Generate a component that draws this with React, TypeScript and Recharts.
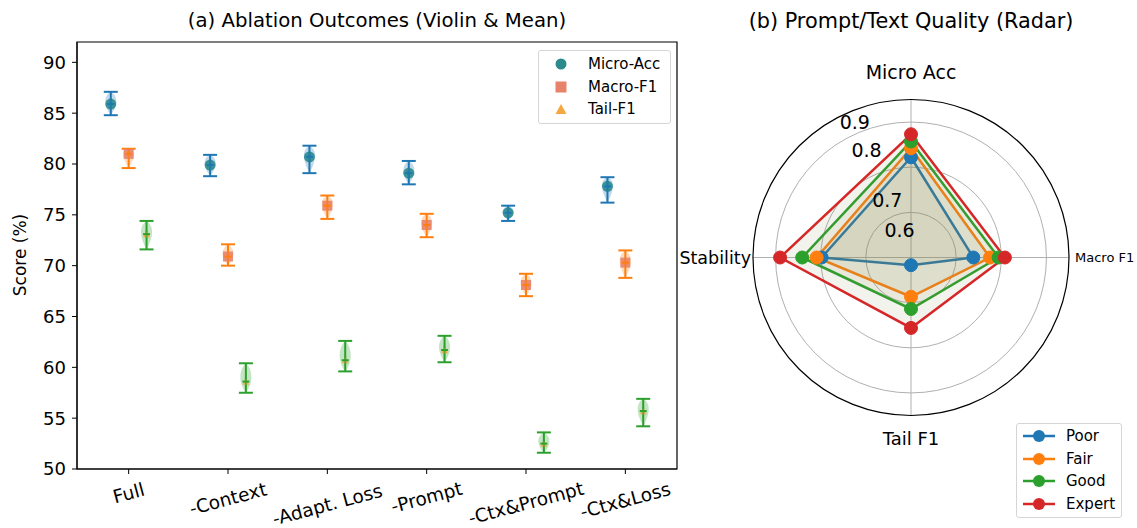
import React from "react";
import {
  ScatterChart,
  Scatter,
  XAxis,
  YAxis,
  ErrorBar,
  ReferenceArea,
  RadarChart,
  Radar,
  PolarGrid,
  PolarAngleAxis,
  PolarRadiusAxis,
} from "recharts";

const FONT = "'DejaVu Sans', sans-serif";

// ---- (a) ablation data: mean and min/max over runs, in % ----
const variants = ["Full", "-Context", "-Adapt. Loss", "-Prompt", "-Ctx&Prompt", "-Ctx&Loss"];

const microMean = [85.9, 79.9, 80.7, 79.1, 75.2, 77.8];
const microMin = [84.8, 78.8, 79.1, 78.0, 74.4, 76.2];
const microMax = [87.1, 80.9, 81.8, 80.3, 75.9, 78.7];

const macroMean = [81.0, 70.9, 75.9, 74.0, 68.1, 70.3];
const macroMin = [79.6, 70.0, 74.6, 72.8, 67.0, 68.8];
const macroMax = [81.5, 72.1, 76.9, 75.1, 69.2, 71.5];

const tailMean = [73.1, 58.6, 60.7, 61.7, 52.5, 55.7];
const tailMin = [71.6, 57.5, 59.6, 60.5, 51.6, 54.2];
const tailMax = [74.4, 60.4, 62.6, 63.1, 53.6, 56.9];

const scoreTicks = [50, 55, 60, 65, 70, 75, 80, 85, 90];

// ---- (b) radar data ----
const radarAxes = ["Micro Acc", "Macro F1", "Tail F1", "Stability"];
const poor = [0.722, 0.638, 0.517, 0.698];
const fair = [0.742, 0.675, 0.587, 0.709];
const good = [0.757, 0.694, 0.614, 0.741];
const expert = [0.773, 0.708, 0.656, 0.79];
const ringTicks = [0.6, 0.7, 0.8];
const ringLabels = ["0.6", "0.7", "0.8", "0.9"];

// layout of the left plot
const Y_MIN = 50;
const Y_MAX = 92;
const X_MIN = -0.52;
const X_MAX = 5.52;
const PLOT_H = 427;
const PX_PER_UNIT = PLOT_H / (Y_MAX - Y_MIN);

type Pt = { x: number; mean: number; min: number; max: number; err: [number, number] };

function buildSeries(mean: number[], min: number[], max: number[], shift: number): Pt[] {
  return mean.map((m, i) => ({
    x: i + shift,
    mean: m,
    min: min[i],
    max: max[i],
    err: [m - min[i], max[i] - m],
  }));
}

const metrics = [
  { name: "Micro-Acc", data: buildSeries(microMean, microMin, microMax, -0.18), body: "#1f77b4", marker: "#2a8a8c", symbol: "circle" },
  { name: "Macro-F1", data: buildSeries(macroMean, macroMin, macroMax, 0), body: "#ff7f0e", marker: "#e8836b", symbol: "square" },
  { name: "Tail-F1", data: buildSeries(tailMean, tailMin, tailMax, 0.18), body: "#2ca02c", marker: "#f5a742", symbol: "triangle" },
];

function Marker({ symbol, x, y, color, size }: { symbol: string; x: number; y: number; color: string; size: number }) {
  if (symbol === "circle") return <circle cx={x} cy={y} r={size / 2} fill={color} />;
  if (symbol === "square") return <rect x={x - size / 2} y={y - size / 2} width={size} height={size} fill={color} />;
  const h = size * 0.9;
  return <polygon points={`${x},${y - h / 2} ${x + size / 2},${y + h / 2} ${x - size / 2},${y + h / 2}`} fill={color} />;
}

// violin body + mean marker drawn around each scatter point
function violinShape(body: string, marker: string, symbol: string) {
  return (props: any) => {
    const { cx, cy, payload } = props;
    if (cx == null || cy == null) return <g />;
    const up = (payload.max - payload.mean) * PX_PER_UNIT;
    const down = (payload.mean - payload.min) * PX_PER_UNIT;
    const top = cy - up;
    const bot = cy + down;
    const w = 7;
    const d = `M${cx},${top} C${cx + w * 0.9},${top + up * 0.3} ${cx + w * 1.2},${cy} ${cx},${bot} C${cx - w * 1.2},${cy} ${cx - w * 0.9},${top + up * 0.3} ${cx},${top} Z`;
    const size = symbol === "circle" ? 11 : symbol === "square" ? 10 : 7;
    return (
      <g>
        <path d={d} fill={body} fillOpacity={0.28} stroke="none" />
        <g opacity={0.9}>
          <Marker symbol={symbol} x={cx} y={cy} color={marker} size={size} />
        </g>
        <line x1={cx} x2={cx} y1={cy - size / 2} y2={cy + size / 2} stroke={body} strokeWidth={2} strokeOpacity={0.6} />
        <line x1={cx - 3.5} x2={cx + 3.5} y1={cy} y2={cy} stroke={body} strokeWidth={2} />
      </g>
    );
  };
}

function VariantTick(props: any) {
  const { x, y, payload } = props;
  const label = variants[payload.value];
  if (label == null) return <g />;
  const fs = 18.5;
  const w = label.length * 0.6 * fs;
  const ty = y + 1.5 + (0.259 * w + 0.966 * fs * 1.1) / 2;
  return (
    <text
      x={x}
      y={ty}
      textAnchor="middle"
      dominantBaseline="central"
      transform={`rotate(-15 ${x} ${ty})`}
      fontSize={fs}
      fontFamily={FONT}
      fill="#000"
    >
      {label}
    </text>
  );
}

function AblationLegend() {
  return (
    <div
      style={{
        position: "absolute",
        left: 538,
        top: 50,
        width: 131,
        height: 72,
        border: "1px solid #d5d5d5",
        borderRadius: 3,
        background: "rgba(255,255,255,0.8)",
        fontSize: 15,
      }}
    >
      {metrics.map((m, i) => (
        <div key={m.name} style={{ position: "absolute", top: 3 + i * 22.5, left: 0, height: 20, width: 130 }}>
          <svg width={30} height={20} style={{ position: "absolute", left: 7, top: 0 }}>
            <Marker symbol={m.symbol} x={15} y={10} color={m.marker} size={11} />
          </svg>
          <span style={{ position: "absolute", left: 49, top: 0, lineHeight: "20px", whiteSpace: "nowrap" }}>{m.name}</span>
        </div>
      ))}
    </div>
  );
}

function AblationPanel() {
  return (
    <div style={{ position: "absolute", left: 0, top: 0, width: 700, height: 528 }}>
      <div style={{ position: "absolute", left: 77, width: 600, top: 9, textAlign: "center", fontSize: 19.7, lineHeight: "24px" }}>
        (a) Ablation Outcomes (Violin &amp; Mean)
      </div>
      <div
        style={{
          position: "absolute",
          left: 20,
          top: 255,
          transform: "translate(-50%, -50%) rotate(-90deg)",
          fontSize: 17,
          whiteSpace: "nowrap",
        }}
      >
        Score (%)
      </div>
      <ScatterChart width={700} height={528} margin={{ top: 42, right: 23, bottom: 0, left: 12 }}>
        <XAxis
          type="number"
          dataKey="x"
          domain={[X_MIN, X_MAX]}
          ticks={[0, 1, 2, 3, 4, 5]}
          allowDataOverflow
          height={59}
          tickSize={5}
          stroke="#000"
          tick={<VariantTick />}
        />
        <YAxis
          type="number"
          dataKey="mean"
          domain={[Y_MIN, Y_MAX]}
          ticks={scoreTicks}
          allowDataOverflow
          width={65}
          tickSize={5}
          tickMargin={6}
          stroke="#000"
          tick={{ fontSize: 18, fill: "#000", fontFamily: FONT }}
        />
        <ReferenceArea x1={X_MIN} x2={X_MAX} y1={Y_MIN} y2={Y_MAX} fill="none" stroke="#000" strokeWidth={1.2} ifOverflow="visible" />
        {metrics.map((m) => (
          <Scatter key={m.name} name={m.name} data={m.data} shape={violinShape(m.body, m.marker, m.symbol)} isAnimationActive={false}>
            <ErrorBar dataKey="err" direction="y" width={7} stroke={m.body} strokeWidth={2} />
          </Scatter>
        ))}
      </ScatterChart>
      <AblationLegend />
    </div>
  );
}

// ---- radar panel ----
const PANEL_LEFT = 640;
const CX = 271;
const CY = 257.5;
const OUTER = 158;
const R_MIN = 0.5;
const R_MAX = 0.85;

const levels = [
  { key: "Poor", values: poor, color: "#1f77b4" },
  { key: "Fair", values: fair, color: "#ff7f0e" },
  { key: "Good", values: good, color: "#2ca02c" },
  { key: "Expert", values: expert, color: "#d62728" },
];

const angleLabelStyle: Record<string, { r: number; fs: number }> = {
  "Micro Acc": { r: 186, fs: 19 },
  "Macro F1": { r: 164, fs: 13 },
  "Tail F1": { r: 181, fs: 18 },
  Stability: { r: 160, fs: 17.5 },
};

function AngleTick(props: any) {
  const { payload } = props;
  const st = angleLabelStyle[payload.value] || { r: 175, fs: 16 };
  const ang = (payload.coordinate * Math.PI) / 180;
  const c = Math.cos(ang);
  const x = CX + st.r * c;
  const y = CY - st.r * Math.sin(ang);
  const anchor = Math.abs(c) < 0.1 ? "middle" : c > 0 ? "start" : "end";
  return (
    <text x={x} y={y} textAnchor={anchor} dominantBaseline="central" fontSize={st.fs} fontFamily={FONT} fill="#000">
      {payload.value}
    </text>
  );
}

function RadarLegend() {
  return (
    <div
      style={{
        position: "absolute",
        left: 1016 - PANEL_LEFT,
        top: 423,
        width: 104,
        height: 93,
        border: "1px solid #d5d5d5",
        borderRadius: 3,
        background: "#fff",
        fontSize: 15,
      }}
    >
      {levels.map((l, i) => (
        <div key={l.key} style={{ position: "absolute", top: 2 + i * 22.6, left: 0, height: 20, width: 104 }}>
          <svg width={36} height={20} style={{ position: "absolute", left: 5, top: 0 }}>
            <line x1={1} x2={33} y1={10} y2={10} stroke={l.color} strokeWidth={2.5} />
            <circle cx={17} cy={10} r={6} fill={l.color} />
          </svg>
          <span style={{ position: "absolute", left: 49, top: 0, lineHeight: "20px" }}>{l.key}</span>
        </div>
      ))}
    </div>
  );
}

function RadarPanel() {
  const data = radarAxes.map((axis, i) => {
    const row: Record<string, string | number> = { axis };
    levels.forEach((l) => (row[l.key] = l.values[i]));
    return row;
  });
  const labelAngle = (22.5 * Math.PI) / 180;
  const labelRadii = [30, 62, 116, 147];
  const w = 1137 - PANEL_LEFT;
  return (
    <div style={{ position: "absolute", left: PANEL_LEFT, top: 0, width: w, height: 528 }}>
      <div style={{ position: "absolute", left: CX - 220, width: 440, top: 9, textAlign: "center", fontSize: 20.8, lineHeight: "24px" }}>
        (b) Prompt/Text Quality (Radar)
      </div>
      <RadarChart width={w} height={528} data={data} cx={CX} cy={CY} outerRadius={OUTER} margin={{ top: 0, right: 0, bottom: 0, left: 0 }}>
        <PolarGrid gridType="circle" stroke="#b0b0b0" strokeWidth={1} />
        <PolarAngleAxis
          dataKey="axis"
          tick={<AngleTick />}
          tickLine={false}
          axisLineType="circle"
          axisLine={{ stroke: "#000", strokeWidth: 1.2 }}
        />
        {/* decimals + 8 nice ticks keep the radial domain at exactly [0.5, 0.85] */}
        <PolarRadiusAxis
          angle={90}
          type="number"
          domain={[R_MIN, R_MAX]}
          allowDataOverflow
          allowDecimals
          tickCount={8}
          ticks={ringTicks}
          tick={false}
          axisLine={false}
        />
        {levels.map((l) => (
          <Radar
            key={l.key}
            name={l.key}
            dataKey={l.key}
            stroke={l.color}
            strokeWidth={2.5}
            fill="#868b50"
            fillOpacity={0.1}
            dot={{ r: 6.5, fill: l.color, stroke: l.color, strokeWidth: 1, fillOpacity: 1 }}
            isAnimationActive={false}
          />
        ))}
      </RadarChart>
      <svg width={w} height={528} style={{ position: "absolute", left: 0, top: 0, pointerEvents: "none" }}>
        {ringLabels.map((t, i) => (
          <text
            key={t}
            x={CX - labelRadii[i] * Math.sin(labelAngle)}
            y={CY - labelRadii[i] * Math.cos(labelAngle)}
            textAnchor="middle"
            dominantBaseline="central"
            fontSize={19}
            fontFamily={FONT}
            fill="#000"
          >
            {t}
          </text>
        ))}
      </svg>
      <RadarLegend />
    </div>
  );
}

export default function App() {
  return (
    <div
      style={{
        position: "relative",
        width: 1137,
        height: 528,
        background: "#fff",
        fontFamily: FONT,
        overflow: "hidden",
        color: "#000",
      }}
    >
      <style>{`body{margin:0}`}</style>
      <AblationPanel />
      <RadarPanel />
    </div>
  );
}
